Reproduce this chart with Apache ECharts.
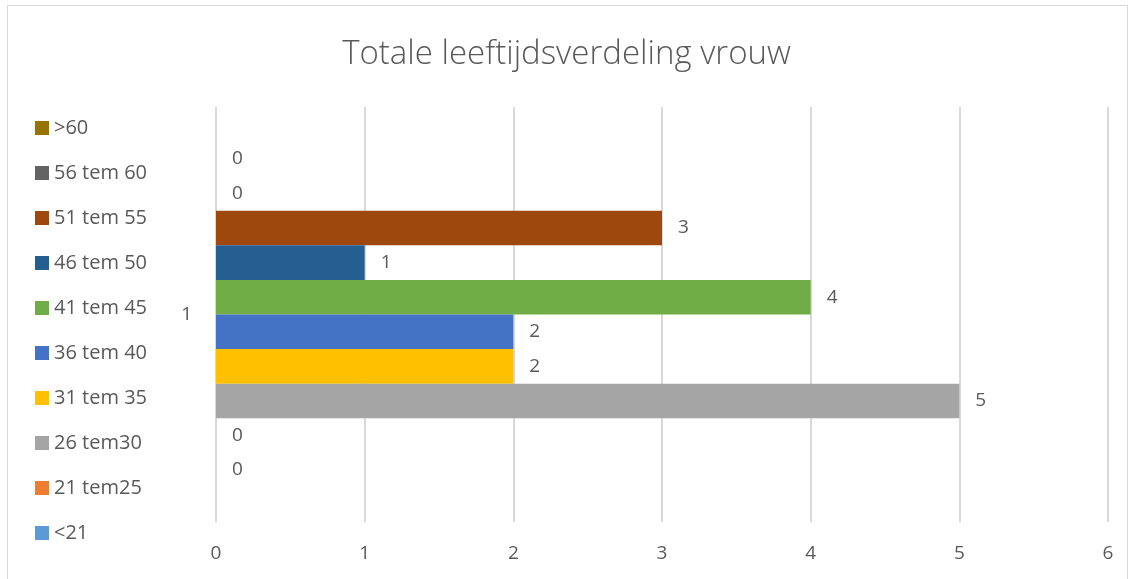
<!DOCTYPE html>
<html lang="nl">
<head>
    <meta charset="UTF-8">
    <title>Totale leeftijdsverdeling vrouw</title>
    <script src="https://cdn.jsdelivr.net/npm/echarts@6/dist/echarts.min.js"></script>
    <style>
        html, body { margin: 0; padding: 0; background: #fff; }
        #chart {
            position: absolute;
            left: 7px; top: 5px;
            width: 1121px; height: 580px;
            border: 1px solid #d9d9d9;
            box-sizing: border-box;
        }
        #map { position: absolute; left: 0; top: 0; width: 1133px; height: 579px; }
    </style>
</head>
<body>
<div id="chart"></div>
<div id="map"></div>
<script>
    // data (first entry = bottom bar, like Excel)
    var categories = ['1'];
    var seriesNames = ['<21', '21 tem25', '26 tem30', '31 tem 35', '36 tem 40',
        '41 tem 45', '46 tem 50', '51 tem 55', '56 tem 60', '>60'];
    var seriesValues = [0, 0, 5, 2, 2, 4, 1, 3, 0, 0];
    var colors = ['#5b9bd5', '#ed7d31', '#a5a5a5', '#ffc000', '#4472c4',
        '#70ad47', '#255e91', '#9e480e', '#636363', '#997300'];
    var xTicks = [0, 6, 1];

    var txt = '#595959';
    var font = '"Open Sans", sans-serif';

    // echarts stacks bars of one band top-down, so feed the series reversed
    var series = [];
    for (var i = seriesNames.length - 1; i >= 0; i--) {
        series.push({
            name: seriesNames[i],
            type: 'bar',
            barGap: 0,
            barCategoryGap: '16.7%',
            itemStyle: {color: colors[i]},
            label: {
                show: true,
                position: 'right',
                distance: 16,
                color: txt,
                fontSize: 19,
                fontFamily: font
            },
            data: [seriesValues[i]]
        });
    }

    var map = echarts.init(document.getElementById('map'));
    map.setOption({
        animation: false,
        title: {
            text: 'Totale leeftijdsverdeling vrouw',
            left: 'center',
            top: 33,
            textStyle: {color: txt, fontSize: 33, fontWeight: 300, fontFamily: font}
        },
        legend: {
            orient: 'vertical',
            left: 30,
            top: 113,
            itemWidth: 14,
            itemHeight: 14,
            itemGap: 25,
            icon: 'rect',
            data: seriesNames.slice().reverse(),
            textStyle: {color: txt, fontSize: 20, fontFamily: font}
        },
        grid: {left: 216, right: 25, top: 107, bottom: 57, containLabel: false},
        xAxis: {
            type: 'value',
            min: xTicks[0], max: xTicks[1], interval: xTicks[2],
            axisLine: {show: false},
            axisTick: {show: false},
            splitLine: {lineStyle: {color: '#d9d9d9', width: 2}},
            axisLabel: {color: txt, fontSize: 19, fontFamily: font, margin: 22}
        },
        yAxis: {
            type: 'category',
            data: categories,
            axisLine: {show: false},
            axisTick: {show: false},
            axisLabel: {color: txt, fontSize: 19, fontFamily: font, margin: 24}
        },
        series: series
    });
</script>
</body>
</html>
